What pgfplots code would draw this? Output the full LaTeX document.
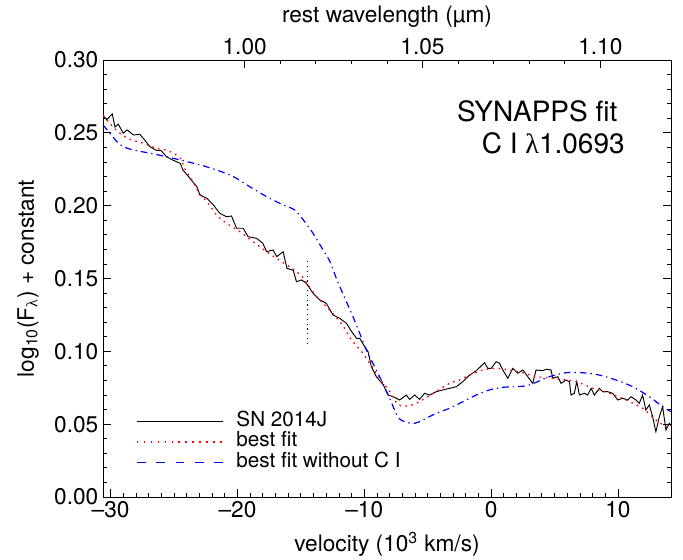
\documentclass[border=0pt]{standalone}
\usepackage{pgfplots}
\pgfplotsset{compat=1.18}
\usepackage{fontspec}
\setmainfont{TeX Gyre Heros}
\newfontfamily\symfont{Liberation Serif}

% SN 2014J spectrum near C I 1.0693 micron
\pgfplotstableread{
v y
-30.60 0.262
-30.30 0.259
-29.87 0.263
-29.65 0.254
-29.40 0.256
-29.00 0.2497
-28.70 0.252
-28.20 0.2485
-27.70 0.249
-27.40 0.246
-26.90 0.2405
-26.40 0.238
-26.00 0.2377
-25.60 0.2336
-25.10 0.2313
-24.50 0.229
-24.30 0.2245
-23.75 0.2188
-23.20 0.213
-22.96 0.2073
-22.40 0.205
-21.90 0.2005
-21.40 0.1948
-20.86 0.1924
-20.47 0.1929
-20.07 0.1845
-19.55 0.1845
-19.16 0.1787
-18.50 0.1776
-18.00 0.1742
-17.70 0.1684
-17.20 0.1696
-16.90 0.165
-16.40 0.1684
-16.10 0.157
-15.60 0.1556
-15.35 0.1478
-14.95 0.149
-14.56 0.1467
-14.04 0.1398
-13.50 0.1352
-13.00 0.133
-12.47 0.125
-11.94 0.1227
-11.40 0.1192
-11.00 0.1135
-10.60 0.1089
-10.36 0.1089
-9.97 0.1032
-9.70 0.0997
-9.44 0.0894
-9.05 0.0826
-8.50 0.0769
-8.13 0.070
-7.74 0.0689
-7.21 0.0666
-6.69 0.070
-6.43 0.067
-6.03 0.070
-5.64 0.067
-5.25 0.0712
-4.85 0.070
-4.33 0.0723
-3.80 0.0735
-3.28 0.0746
-2.75 0.0757
-2.23 0.0792
-1.70 0.0837
-1.17 0.0867
-0.52 0.0922
-0.26 0.0883
0.00 0.0883
0.40 0.0929
0.66 0.0918
0.92 0.0872
1.31 0.0815
1.71 0.0883
2.10 0.0849
2.50 0.0872
2.89 0.0826
3.28 0.078
3.54 0.0872
4.07 0.0867
4.33 0.0877
4.72 0.0872
4.86 0.0815
5.25 0.0826
5.51 0.078
5.90 0.0803
6.17 0.0792
6.30 0.070
6.56 0.0712
6.75 0.0792
6.96 0.070
7.35 0.0712
7.61 0.070
7.88 0.0746
8.14 0.070
8.53 0.0746
8.80 0.0723
9.19 0.0723
9.58 0.0712
9.98 0.0666
10.37 0.0678
10.77 0.0666
11.03 0.0689
11.42 0.0666
11.68 0.0643
11.94 0.070
12.20 0.0597
12.47 0.0632
12.73 0.0551
12.99 0.0448
13.26 0.0551
13.52 0.062
13.78 0.046
14.04 0.0506
14.18 0.049
}\obs

\pgfplotstableread{
v y
-30.60 0.262
-29.90 0.255
-29.26 0.2497
-28.47 0.2456
-27.40 0.2428
-26.40 0.2394
-25.60 0.238
-25.06 0.236
-24.50 0.2325
-24.10 0.2245
-23.50 0.2165
-23.00 0.2085
-22.20 0.2005
-21.65 0.1936
-20.86 0.1879
-19.80 0.1821
-18.77 0.1753
-17.70 0.1684
-16.60 0.162
-15.70 0.157
-14.95 0.1517
-14.43 0.1455
-13.80 0.138
-12.70 0.128
-11.80 0.119
-11.00 0.1078
-10.20 0.0997
-9.58 0.0918
-9.05 0.0849
-8.50 0.078
-8.00 0.0725
-7.35 0.0635
-6.69 0.0625
-5.90 0.0643
-4.99 0.0689
-4.20 0.073
-3.28 0.078
-2.50 0.0803
-1.70 0.0837
-0.66 0.0872
0.40 0.0883
1.45 0.0872
2.50 0.0853
3.54 0.0826
4.86 0.0815
6.69 0.0792
8.00 0.0746
9.32 0.0712
10.63 0.0666
11.94 0.0609
12.99 0.0529
13.78 0.0483
14.18 0.047
}\bestfit

\pgfplotstableread{
v y
-30.60 0.2554
-30.05 0.2497
-29.50 0.2439
-29.00 0.2405
-28.20 0.2382
-26.90 0.236
-25.60 0.2336
-24.30 0.2309
-22.96 0.228
-21.65 0.2245
-20.34 0.22
-19.03 0.213
-17.70 0.2062
-16.40 0.2005
-15.48 0.197
-14.70 0.189
-14.04 0.181
-13.40 0.1718
-12.70 0.1615
-12.20 0.150
-11.70 0.1398
-11.00 0.126
-10.36 0.1124
-9.84 0.1009
-9.18 0.0894
-8.53 0.078
-8.00 0.0677
-7.35 0.0551
-6.82 0.0517
-6.03 0.0506
-5.38 0.0529
-4.33 0.0574
-3.28 0.0609
-2.23 0.0654
-1.17 0.070
-0.13 0.0735
0.92 0.0753
1.97 0.0757
3.02 0.0769
4.60 0.0826
5.90 0.0853
7.22 0.0853
8.53 0.0837
9.85 0.0803
11.16 0.0757
12.47 0.0689
13.52 0.062
14.18 0.0586
}\noCI

\begin{document}
\begin{tikzpicture}
\pgfplotsset{
  every axis/.append style={font=\fontsize{17}{20}\selectfont},
}
\begin{axis}[
  name=main,
  scale only axis, width=426pt, height=327.75pt,
  xmin=-30.6, xmax=14.18, ymin=0, ymax=0.30,
  xtick={-30,-20,-10,0,10}, xticklabels={–30,–20,–10,0,10},
  minor x tick num=9, xtick pos=left,
  ytick={0,0.05,0.10,0.15,0.20,0.25,0.30}, minor y tick num=4,
  yticklabel style={/pgf/number format/.cd,fixed,fixed zerofill,precision=2,assume math mode=true},
  tick align=inside, major tick length=6pt, minor tick length=3pt,
  tick style={black, line width=0.6pt},
  axis line style={line width=0.6pt},
  xlabel={velocity (10\textsuperscript{3} km/s)},
  xlabel style={at={(axis description cs:0.5,-0.108)}, anchor=center},
  ylabel={log\textsubscript{10}(F\textsubscript{\symfont λ}) + constant},
  ylabel style={at={(axis description cs:-0.132,0.5)}, anchor=center, rotate=0},
  legend style={draw=none, fill=none, at={(axis description cs:0.058,0.126)}, anchor=west,
    inner sep=0pt, row sep=0pt, font=\fontsize{15.5}{18}\selectfont,
    nodes={inner sep=0pt, text height=11.6pt, text depth=4pt}},
  legend cell align=left,
]
\addplot[black, line width=0.7pt, forget plot] table[x=v, y=y] {\obs};
\addplot[red, line width=1pt, dash pattern=on 1.2pt off 3.3pt, smooth, forget plot] table[x=v, y=y] {\bestfit};
\addplot[blue, line width=0.9pt, dash pattern=on 5pt off 3pt on 1pt off 3pt, smooth, forget plot] table[x=v, y=y] {\noCI};
\addplot[black, line width=0.9pt, dash pattern=on 1pt off 2.6pt, forget plot] coordinates {(-14.5,0.105) (-14.5,0.164)};

\addlegendimage{legend image code/.code={\draw[black, line width=0.7pt] (0pt,0pt) -- (64.5pt,0pt); \path (74.5pt,0pt);}}
\addlegendentry{SN 2014J}
\addlegendimage{legend image code/.code={\draw[red, line width=1pt, dash pattern=on 1.2pt off 4pt] (0pt,0pt) -- (64.5pt,0pt); \path (74.5pt,0pt);}}
\addlegendentry{best fit}
\addlegendimage{legend image code/.code={\draw[blue, line width=0.9pt, dash pattern=on 6.5pt off 8pt] (0pt,0pt) -- (64.5pt,0pt); \path (74.5pt,0pt);}}
\addlegendentry{best fit without C I}

\node[anchor=base east, font=\fontsize{21}{24}\selectfont] at (axis cs:10.32,0.2576) {SYNAPPS fit};
\node[anchor=base east, font=\fontsize{21}{24}\selectfont] at (axis cs:10.9,0.2355) {C I {\symfont λ}1.0693};
\end{axis}
\begin{axis}[
  at={(main.south west)}, anchor=south west,
  scale only axis, width=426pt, height=327.75pt,
  xmin=0.96016, xmax=1.11988, ymin=0, ymax=0.30,
  axis x line*=top, axis y line=none,
  xtick={1.00,1.05,1.10}, minor x tick num=4,
  xticklabel style={/pgf/number format/.cd,fixed,fixed zerofill,precision=2,assume math mode=true},
  tick align=inside, major tick length=6pt, minor tick length=3pt,
  tick style={black, line width=0.6pt},
  axis line style={line width=0.6pt},
  xlabel={rest wavelength (µm)},
  xlabel style={at={(axis description cs:0.5,1.098)}, anchor=center},
]
\end{axis}
\pgfresetboundingbox
\path[use as bounding box] (main.south west) ++(-77.25pt,-47.25pt) rectangle ++(512.25pt,420pt);
\end{tikzpicture}
\end{document}
